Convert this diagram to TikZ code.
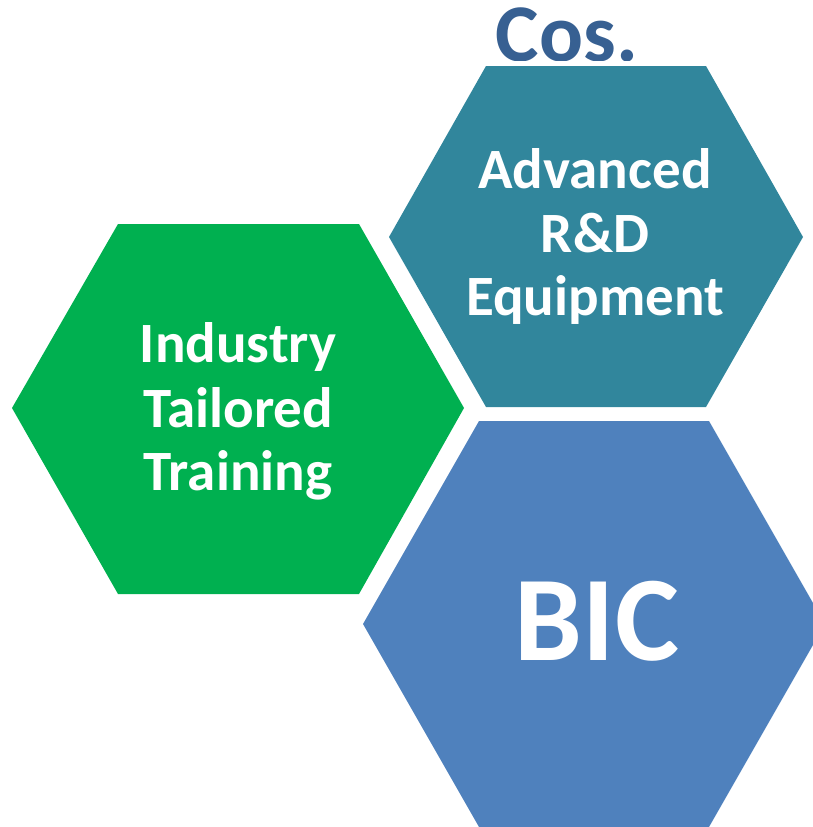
\documentclass[tikz,border=0pt]{standalone}
\usepackage{fontspec}
\setmainfont{Carlito}
\definecolor{hexgreen}{HTML}{00B050}
\definecolor{hexteal}{HTML}{31869C}
\definecolor{hexblue}{HTML}{4F81BD}
\definecolor{titleblue}{HTML}{376092}
\begin{document}
\begin{tikzpicture}[x=1pt,y=-1pt,
  hexlabel/.style={text=white,font=\bfseries\fontsize{57}{64}\selectfont,anchor=base,inner sep=0pt},
  biglabel/.style={text=white,font=\bfseries\fontsize{121}{130}\selectfont,anchor=base,inner sep=0pt},
  titlelabel/.style={text=titleblue,font=\bfseries\fontsize{82}{90}\selectfont,anchor=base,inner sep=0pt}]
\useasboundingbox (0,0) rectangle (813,827);
\clip (0,0) rectangle (813,827);
% hexagons
\fill[hexgreen] (12,408) -- (118,224) -- (359,224) -- (464,408) -- (359,594) -- (118,594) -- cycle;
\fill[hexteal] (389,237) -- (486,66) -- (706,66) -- (803,237) -- (706,407) -- (486,407) -- cycle;
\fill[hexblue] (363,624) -- (479,421) -- (709,421) -- (825,624) -- (709,827) -- (479,827) -- cycle;
% labels
\node[hexlabel] (ind) at (238,362) {Industry};
\node[hexlabel] (tai) at (238,427) {Tailored};
\node[hexlabel] (tra) at (238,490) {Training};
\node[hexlabel] (adv) at (595,188) {Advanced};
\node[hexlabel] (rd) at (595,252) {R\&D};
\node[hexlabel] (equ) at (595,315) {Equipment};
\node[biglabel] (bic) at (597,660) {BIC};
\begin{scope}
\clip (0,0) rectangle (813,60);
\node[titlelabel] (cos) at (567,61) {Cos.};
\end{scope}
\end{tikzpicture}
\end{document}
